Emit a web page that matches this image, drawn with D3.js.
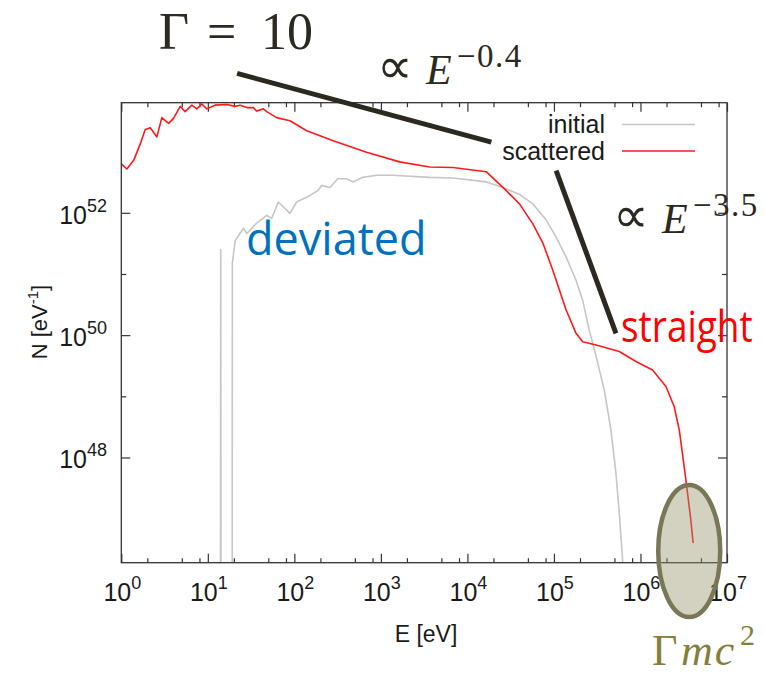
<!DOCTYPE html>
<html>
<head>
<meta charset="utf-8">
<script src="https://cdn.jsdelivr.net/npm/d3@7/dist/d3.min.js"></script>
<style>
  body { margin: 0; background: #fff; }
  svg { display: block; }
</style>
</head>
<body>
<svg id="chart" width="765" height="675"></svg>
<script>
// Photon spectrum N(E) before and after scattering, Γ = 10

// initial spectrum: energies [eV] and counts [eV^-1]; 1e40 marks empty bins
const energyInitial = [13.9, 14.1, 14.3, 19.0, 19.2, 20.7, 25.8, 28.2, 36.7, 43.5, 48.0, 54.7, 65.2, 88.9,
  106, 139, 187, 207, 258, 318, 401, 474, 618, 889, 1370, 3660, 6810, 16500, 25700, 40000, 57000,
  81300, 1.06e5, 1.38e5, 1.80e5, 2.15e5, 2.56e5, 3.07e5, 3.82e5, 4.56e5, 5.21e5, 5.69e5, 6.22e5, 6.5e5];
const countsInitial = [1e40, 2.5e51, 1e40, 1e40, 1.5e51, 3.5e51, 5.6e51, 4.6e51, 6.8e51, 8.1e51, 9.1e51, 8.1e51, 1.5e52, 9.8e51,
  1.5e52, 1.8e52, 2.3e52, 2.8e52, 2.6e52, 3.6e52, 3.6e52, 3.2e52, 3.8e52, 4.1e52, 4.1e52, 3.8e52, 3.7e52, 3.2e52, 2.6e52, 2.0e52, 1.4e52,
  7.6e51, 4.0e51, 1.9e51, 7.9e50, 3.7e50, 1.2e50, 4.5e49, 1.26e49, 2.8e48, 5.5e47, 1.23e47, 2.1e46, 1e45];

// scattered spectrum
const energyScattered = [1.0, 1.16, 1.39, 1.66, 1.89, 2.16, 2.58, 2.94, 3.52, 4.01, 4.80, 5.47, 6.53, 7.46, 8.53, 9.72,
  12.1, 16.6, 20.7, 23.6, 28.2, 33.6, 36.7, 43.8, 48.0, 62.5, 88.9, 139, 281, 682, 1650, 3660, 6810, 16500,
  28100, 40000, 57000, 74500, 97000, 1.16e5, 1.38e5, 1.80e5, 2.15e5, 3.07e5, 5.69e5, 8.87e5, 1.38e6, 1.97e6,
  2.45e6, 2.81e6, 3.20e6, 3.50e6, 3.82e6, 4.06e6];
const countsScattered = [6.3e52, 5.2e52, 7.2e52, 1.35e53, 2.3e53, 2.45e53, 1.74e53, 3.6e53, 2.9e53, 3.5e53, 5.5e53, 4.5e53, 5.75e53, 5.0e53, 6.0e53, 5.0e53,
  5.75e53, 5.9e53, 5.5e53, 5.75e53, 5.25e53, 5.25e53, 4.6e53, 5.0e53, 4.5e53, 3.6e53, 3.2e53, 2.2e53, 1.5e53, 9.8e52, 6.8e52, 5.6e52, 5.5e52, 4.7e52,
  2.3e52, 1.4e52, 6.6e51, 3.2e51, 1.15e51, 5.4e50, 2.6e50, 1.07e50, 7.8e49, 6.9e49, 5.4e49, 3.7e49, 2.7e49, 1.45e49,
  6.8e48, 2.8e48, 7.1e47, 2.6e47, 9.5e46, 4.0e46];

// axis ticks
const xMajorTicks = [1, 1e1, 1e2, 1e3, 1e4, 1e5, 1e6, 1e7];
const xMinorFactors = [2, 5, 8];
const yLabelTicks = [1e48, 1e50, 1e52];
const yMinorTicks = [1e49, 1e51];
const legendLabels = ["initial", "scattered"];

// power-law guides, ∝E^-0.4 and ∝E^-3.5, and the Γmc² marker (E, N)
const guideSoft = [[21.8, 1.9e54], [18900, 1.43e53]];
const guideSteep = [[1.06e5, 4.9e52], [5.21e5, 1.07e50]];
const cutoffMarker = [3.66e6, 2.95e46];

const svg = d3.select("#chart");
const W = 765, H = 675;
const plot = { left: 121.3, right: 727, top: 102.7, bottom: 562.7 };

const x = d3.scaleLog().domain([1, 1e7]).range([plot.left, plot.right]);
const y = d3.scaleLog().domain([Math.pow(10, 46.28), Math.pow(10, 53.8)]).range([plot.bottom, plot.top]);

const sansFont = "'Liberation Sans', Arial, Helvetica, sans-serif";
const mathFont = "'Liberation Serif', 'DejaVu Serif', serif";
const symbolFont = "'DejaVu Sans', sans-serif";
const labelFont = "'Open Sans', 'Noto Sans', sans-serif";

svg.append("rect").attr("width", W).attr("height", H).attr("fill", "#fff");

svg.append("defs").append("clipPath").attr("id", "plotClip")
  .append("rect")
  .attr("x", plot.left).attr("y", plot.top)
  .attr("width", plot.right - plot.left).attr("height", plot.bottom - plot.top);

// ---- ticks (inward on all four sides) ----
const xMinorTicks = [];
xMajorTicks.slice(0, -1).forEach(d => xMinorFactors.forEach(f => xMinorTicks.push(d * f)));

const axisStyle = g => {
  g.select(".domain").remove();
  g.selectAll(".tick line").attr("stroke", "#333").attr("stroke-width", 1.2);
  g.selectAll(".tick text").remove();
};

svg.append("g").attr("transform", `translate(0,${plot.bottom})`)
  .call(d3.axisBottom(x).tickValues(xMajorTicks).tickSize(-9)).call(axisStyle);
svg.append("g").attr("transform", `translate(0,${plot.bottom})`)
  .call(d3.axisBottom(x).tickValues(xMinorTicks).tickSize(-4.5)).call(axisStyle);
svg.append("g").attr("transform", `translate(0,${plot.top})`)
  .call(d3.axisTop(x).tickValues(xMajorTicks).tickSize(-9)).call(axisStyle);
svg.append("g").attr("transform", `translate(0,${plot.top})`)
  .call(d3.axisTop(x).tickValues(xMinorTicks).tickSize(-4.5)).call(axisStyle);

svg.append("g").attr("transform", `translate(${plot.left},0)`)
  .call(d3.axisLeft(y).tickValues(yLabelTicks).tickSize(-9)).call(axisStyle);
svg.append("g").attr("transform", `translate(${plot.left},0)`)
  .call(d3.axisLeft(y).tickValues(yMinorTicks).tickSize(-5)).call(axisStyle);
svg.append("g").attr("transform", `translate(${plot.right},0)`)
  .call(d3.axisRight(y).tickValues(yLabelTicks).tickSize(-9)).call(axisStyle);
svg.append("g").attr("transform", `translate(${plot.right},0)`)
  .call(d3.axisRight(y).tickValues(yMinorTicks).tickSize(-5)).call(axisStyle);

// ---- spectra ----
const line = d3.line().x(d => x(d[0])).y(d => y(d[1]));
const curves = svg.append("g").attr("clip-path", "url(#plotClip)");
curves.append("path")
  .datum(d3.zip(energyInitial, countsInitial))
  .attr("d", line).attr("fill", "none")
  .attr("stroke", "#c6c6c6").attr("stroke-width", 1.6).attr("stroke-linejoin", "round");
curves.append("path")
  .datum(d3.zip(energyScattered, countsScattered))
  .attr("d", line).attr("fill", "none")
  .attr("stroke", "#ff1a1a").attr("stroke-width", 1.6).attr("stroke-linejoin", "round");

// frame
svg.append("rect")
  .attr("x", plot.left).attr("y", plot.top)
  .attr("width", plot.right - plot.left).attr("height", plot.bottom - plot.top)
  .attr("fill", "none").attr("stroke", "#333").attr("stroke-width", 1.3);

// ---- tick labels 10^n ----
const exponent = v => Math.round(Math.log10(v));
const xLab = svg.append("g").attr("font-family", sansFont).attr("fill", "#1a1a1a");
xMajorTicks.forEach(v => {
  const t = xLab.append("text").attr("x", x(v) + 1).attr("y", 601).attr("text-anchor", "middle");
  t.append("tspan").attr("font-size", 25).text("10");
  t.append("tspan").attr("font-size", 18).attr("dy", -12).text(exponent(v));
});
const yLab = svg.append("g").attr("font-family", sansFont).attr("fill", "#1a1a1a");
yLabelTicks.forEach(v => {
  const t = yLab.append("text").attr("x", 107).attr("y", y(v) + 11).attr("text-anchor", "end");
  t.append("tspan").attr("font-size", 25).text("10");
  t.append("tspan").attr("font-size", 18).attr("dy", -12).text(exponent(v));
});

// axis titles
svg.append("text").attr("x", 426).attr("y", 642).attr("text-anchor", "middle")
  .attr("font-family", sansFont).attr("font-size", 23).attr("fill", "#1a1a1a").text("E [eV]");
const yTitle = svg.append("text")
  .attr("transform", "translate(47,322) rotate(-90)")
  .attr("text-anchor", "middle").attr("font-family", sansFont).attr("font-size", 22).attr("fill", "#1a1a1a");
yTitle.append("tspan").text("N [eV");
yTitle.append("tspan").attr("font-size", 15).attr("dy", -9).text("-1");
yTitle.append("tspan").attr("dy", 9).text("]");

// ---- legend ----
const legendColors = ["#c6c6c6", "#ff1a1a"];
legendLabels.forEach((name, i) => {
  const ly = 124.5 + i * 26.5;
  svg.append("text").attr("x", 605).attr("y", ly + 8.5).attr("text-anchor", "end")
    .attr("font-family", sansFont).attr("font-size", 25).attr("fill", "#1a1a1a").text(name);
  svg.append("line").attr("x1", 622).attr("x2", 695).attr("y1", ly).attr("y2", ly)
    .attr("stroke", legendColors[i]).attr("stroke-width", 1.6);
});

// ---- annotations ----
const guideLine = d3.line().x(d => x(d[0])).y(d => y(d[1]));
[guideSoft, guideSteep].forEach(g => {
  svg.append("path").attr("d", guideLine(g))
    .attr("stroke", "#2b2920").attr("stroke-width", 5).attr("fill", "none");
});

const ink = "#2b2920";
const gamma = svg.append("g").attr("font-family", mathFont).attr("font-size", 52).attr("fill", ink);
gamma.append("text").attr("x", 159).attr("y", 49).text("Γ");
gamma.append("text").attr("x", 207).attr("y", 49).text("=");
gamma.append("text").attr("x", 261).attr("y", 49).text("10");

// ∝ E^p, drawn piece by piece
function powerLaw(px, py, expText) {
  const g = svg.append("g").attr("fill", ink);
  g.append("text").attr("x", px).attr("y", py - 1)
    .attr("font-family", symbolFont).attr("font-size", 50).text("∝");
  g.append("text").attr("x", px + 49).attr("y", py)
    .attr("font-family", mathFont).attr("font-size", 42).attr("font-style", "italic").text("E");
  g.append("text").attr("x", px + 80).attr("y", py - 17)
    .attr("font-family", mathFont).attr("font-size", 33).attr("letter-spacing", 1.5).text(expText);
}
powerLaw(377, 84, "−0.4");
powerLaw(613, 233, "−3.5");

svg.append("text").attr("x", 246).attr("y", 255)
  .attr("font-family", labelFont).attr("font-size", 45).attr("fill", "#0070c0").text("deviated");
// slightly condensed so the word stays on the canvas
svg.append("text").attr("transform", "translate(621,342) scale(0.86,1)")
  .attr("font-family", labelFont).attr("font-size", 43).attr("fill", "#ff0000").text("straight");

// Γmc² marker
svg.append("ellipse")
  .attr("cx", x(cutoffMarker[0])).attr("cy", y(cutoffMarker[1]))
  .attr("rx", 31).attr("ry", 66)
  .attr("fill", "rgba(150,146,104,0.42)")
  .attr("stroke", "#7a7757").attr("stroke-width", 4.5);

const gmc = svg.append("g").attr("font-family", mathFont).attr("fill", "#857f3c");
gmc.append("text").attr("x", 652).attr("y", 665).attr("font-size", 44).text("Γ");
gmc.append("text").attr("x", 681).attr("y", 665).attr("font-size", 44)
  .attr("font-style", "italic").attr("letter-spacing", 2).text("mc");
gmc.append("text").attr("x", 740).attr("y", 645).attr("font-size", 30).text("2");
</script>
</body>
</html>
